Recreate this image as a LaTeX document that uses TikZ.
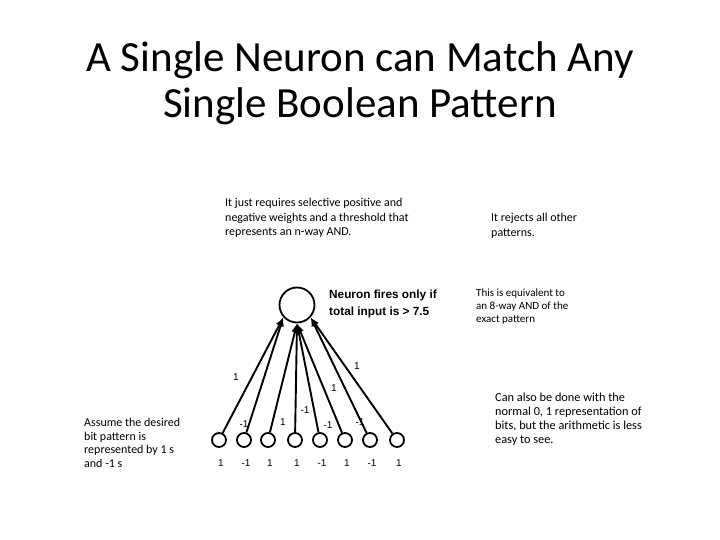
\documentclass[tikz,border=0pt]{standalone}
\usepackage{fontspec}
\setmainfont{Carlito}
\newfontfamily\labelfont{Liberation Sans}
\usetikzlibrary{arrows.meta,positioning}
\definecolor{inkblack}{HTML}{000000}

\begin{document}
\begin{tikzpicture}[x=1pt,y=-1pt,
    unit/.style={draw=inkblack,circle,line width=1.8pt,inner sep=0pt},
    wire/.style={-{Latex[length=9pt,width=7pt]},line width=1.9pt,inkblack},
    wlab/.style={font=\labelfont\fontsize{10}{12}\selectfont,inner sep=0pt},
    note/.style 2 args={font=\fontsize{#1}{#2}\selectfont,align=left,anchor=north west,inner sep=0pt}]
    \useasboundingbox (0,0) rectangle (720,540);
    \node[font=\fontsize{43}{46}\selectfont,align=center] (title) at (360,83) {A Single Neuron can Match Any\\Single Boolean Pattern};
    % neuron and inputs
    \node[unit,minimum size=35pt] (neuron) at (297,305) {};
    \foreach \x/\v [count=\i] in {219/1,244/-1,268/1,295/1,320/-1,345/1,370/-1,397/1} {
      \node[unit,minimum size=14pt] (in\i) at (\x,440) {};
      \node[wlab] (bit\i) at (\x+2,463) {\v};
    }
    \foreach \i/\a in {1/222,2/222,3/270,4/270,5/270,6/270,7/318,8/318} { \draw[wire] (in\i) -- (neuron.\a); }
    % weights
    \node[wlab] (w1) at (236,377) {1};
    \node[wlab] (w2) at (244,424) {-1};
    \node[wlab] (w3) at (283,422) {1};
    \node[wlab] (w4) at (305,410) {-1};
    \node[wlab] (w5) at (328,425) {-1};
    \node[wlab] (w6) at (334,388) {1};
    \node[wlab] (w7) at (360,422) {-1};
    \node[wlab] (w8) at (357,366) {1};
    % notes
    \node[note={12}{14.5}] (reqs) at (225,198) {It just requires selective positive and\\negative weights and a threshold that\\represents an n-way AND.};
    \node[note={12}{15}] (rejects) at (491,213) {It rejects all other\\patterns.};
    \node[note={12}{17},font=\labelfont\bfseries\fontsize{11.8}{17}\selectfont] (fires) at (329,290) {Neuron fires only if\\total input is > 7.5};
    \node[note={11}{12.8}] (equiv) at (476,289) {This is equivalent to\\an 8-way AND of the\\exact pattern};
    \node[note={12.3}{14}] (also) at (495,393) {Can also be done with the\\normal 0, 1 representation of\\bits, but the arithmetic is less\\easy to see.};
    \node[note={12}{13.7}] (assume) at (84,418) {Assume the desired\\bit pattern is\\represented by 1 s\\and -1 s};
\end{tikzpicture}
\end{document}
